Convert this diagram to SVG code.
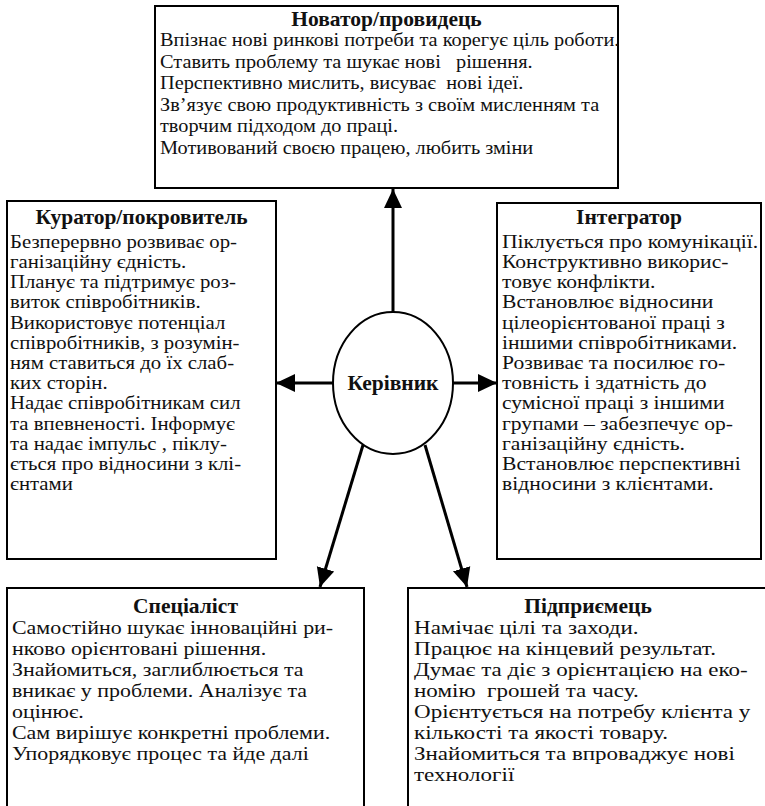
<svg xmlns="http://www.w3.org/2000/svg" width="765" height="806" viewBox="0 0 765 806">
<defs>
<style>
.box{fill:#fff;stroke:#000;stroke-width:2}
.t{font-family:"Liberation Serif","Times New Roman",serif;font-size:19px;fill:#111;white-space:pre}
.h{font-family:"Liberation Serif","Times New Roman",serif;font-size:21.5px;font-weight:bold;fill:#111;text-anchor:middle}
.c{stroke:#000;stroke-width:3;fill:none;marker-end:url(#ah)}
</style>
<marker id="ah" markerUnits="userSpaceOnUse" markerWidth="20" markerHeight="20" refX="19" refY="9" orient="auto" viewBox="0 0 20 18">
<path d="M0,0 L19,9 L0,18 Z" fill="#000"/>
</marker>
</defs>
<rect width="765" height="806" fill="#fff"/>
<g id="connectors">
<line class="c" x1="393" y1="312" x2="393" y2="189"/>
<line class="c" x1="334" y1="383" x2="276" y2="383"/>
<line class="c" x1="453" y1="383" x2="497" y2="383"/>
<line class="c" x1="363" y1="445" x2="320" y2="587"/>
<line class="c" x1="425" y1="445" x2="467" y2="587"/>
</g>
<g id="innovator">
<rect class="box" x="155" y="6" width="463" height="182"/>
<text class="h" x="386.5" y="26">Новатор/провидець</text>
<g transform="matrix(1.069 0 0 1 -11.04 0)">
<text class="t" xml:space="preserve"><tspan x="160" y="46">Впізнає нові ринкові потреби та корегує ціль роботи.</tspan><tspan x="160" y="68">Ставить проблему та шукає нові   рішення.</tspan><tspan x="160" y="89">Перспективно мислить, висуває  нові ідеї.</tspan><tspan x="160" y="111">Звʼязує свою продуктивність з своїм мисленням та</tspan><tspan x="160" y="132">творчим підходом до праці.</tspan><tspan x="160" y="154">Мотивований своєю працею, любить зміни</tspan></text>
</g>
</g>
<g id="curator">
<rect class="box" x="7" y="201" width="269" height="358"/>
<text class="h" x="141.5" y="224">Куратор/покровитель</text>
<g transform="matrix(1.094 0 0 1 -0.94 0)">
<text class="t" xml:space="preserve"><tspan x="10" y="248">Безперервно розвиває ор-</tspan><tspan x="10" y="268">ганізаційну єдність.</tspan><tspan x="10" y="288.5">Планує та підтримує роз-</tspan><tspan x="10" y="308.5">виток співробітників.</tspan><tspan x="10" y="329">Використовує потенціал</tspan><tspan x="10" y="349">співробітників, з розумін-</tspan><tspan x="10" y="369">ням ставиться до їх слаб-</tspan><tspan x="10" y="389.5">ких сторін.</tspan><tspan x="10" y="409.5">Надає співробітникам сил</tspan><tspan x="10" y="430">та впевненості. Інформує</tspan><tspan x="10" y="450">та надає імпульс , піклу-</tspan><tspan x="10" y="470">ється про відносини з клі-</tspan><tspan x="10" y="490.5">єнтами</tspan></text>
</g>
</g>
<g id="integrator">
<rect class="box" x="497" y="203" width="264" height="356"/>
<text class="h" x="629" y="224">Інтегратор</text>
<g transform="matrix(1.137 0 0 1 -68.77 0)">
<text class="t" xml:space="preserve"><tspan x="502" y="248">Піклується про комунікації.</tspan><tspan x="502" y="268">Конструктивно викорис-</tspan><tspan x="502" y="288.5">товує конфлікти.</tspan><tspan x="502" y="308.5">Встановлює відносини</tspan><tspan x="502" y="329">цілеорієнтованої праці з</tspan><tspan x="502" y="349">іншими співробітниками.</tspan><tspan x="502" y="369">Розвиває та посилює го-</tspan><tspan x="502" y="389.5">товність і здатність до</tspan><tspan x="502" y="409.5">сумісної праці з іншими</tspan><tspan x="502" y="430">групами – забезпечує ор-</tspan><tspan x="502" y="450">ганізаційну єдність.</tspan><tspan x="502" y="470">Встановлює перспективні</tspan><tspan x="502" y="490.5">відносини з клієнтами.</tspan></text>
</g>
</g>
<g id="manager">
<ellipse cx="393" cy="383" rx="60" ry="71" fill="#fff" stroke="#000" stroke-width="2"/>
<text class="h" x="393" y="390">Керівник</text>
</g>
<g id="specialist">
<rect class="box" x="7" y="588" width="357" height="230"/>
<text class="h" x="185.5" y="613">Спеціаліст</text>
<g transform="matrix(1.155 0 0 1 -1.86 0)">
<text class="t" xml:space="preserve"><tspan x="12" y="634">Самостійно шукає інноваційні ри-</tspan><tspan x="12" y="655">нково орієнтовані рішення.</tspan><tspan x="12" y="676">Знайомиться, заглиблюється та</tspan><tspan x="12" y="697">вникає у проблеми. Аналізує та</tspan><tspan x="12" y="718">оцінює.</tspan><tspan x="12" y="739">Сам вирішує конкретні проблеми.</tspan><tspan x="12" y="760">Упорядковує процес та йде далі</tspan></text>
</g>
</g>
<g id="entrepreneur">
<rect class="box" x="408" y="588" width="370" height="230"/>
<text class="h" x="588" y="613">Підприємець</text>
<g transform="matrix(1.213 0 0 1 -88.18 0)">
<text class="t" xml:space="preserve"><tspan x="414" y="634">Намічає цілі та заходи.</tspan><tspan x="414" y="655">Працює на кінцевий результат.</tspan><tspan x="414" y="676">Думає та діє з орієнтацією на еко-</tspan><tspan x="414" y="697">номію  грошей та часу.</tspan><tspan x="414" y="718">Орієнтується на потребу клієнта у</tspan><tspan x="414" y="739">кількості та якості товару.</tspan><tspan x="414" y="760">Знайомиться та впроваджує нові</tspan><tspan x="414" y="781">технології</tspan></text>
</g>
</g>
</svg>
